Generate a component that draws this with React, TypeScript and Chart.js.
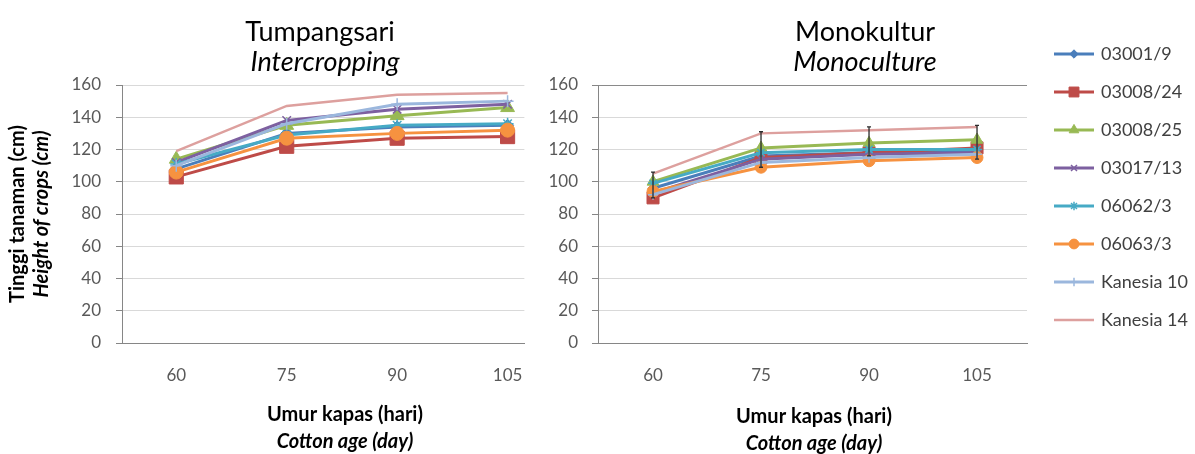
import React, { useEffect, useRef } from "react";
import { Chart, registerables } from "chart.js";
import { drawPoint } from "chart.js/helpers";

Chart.register(...registerables);

// ---------- data ----------
const categories = [60, 75, 90, 105];
const seriesNames = ["03001/9", "03008/24", "03008/25", "03017/13", "06062/3", "06063/3", "Kanesia 10", "Kanesia 14"];

// Tumpangsari / Intercropping
const inter_03001_9 = [108, 130, 134, 135];
const inter_03008_24 = [103, 122, 127, 128];
const inter_03008_25 = [114, 135, 141, 146];
const inter_03017_13 = [112, 138, 145, 148];
const inter_06062_3 = [111, 129, 135, 136];
const inter_06063_3 = [106, 127, 130, 132];
const inter_kanesia10 = [110, 136, 148, 150];
const inter_kanesia14 = [119, 147, 154, 155];

// Monokultur / Monoculture
const mono_03001_9 = [96, 116, 118, 119];
const mono_03008_24 = [90, 115, 118, 121];
const mono_03008_25 = [100, 121, 124, 126];
const mono_03017_13 = [93, 114, 117, 118];
const mono_06062_3 = [99, 118, 120, 120];
const mono_06063_3 = [94, 109, 113, 115];
const mono_kanesia10 = [92, 112, 115, 117];
const mono_kanesia14 = [105, 130, 132, 134];

// error bars (monoculture)
const monoErrLow = [90, 109, 116, 114];
const monoErrHigh = [106, 131, 134, 135];

const yTicks = { min: 0, max: 160, step: 20 };
const leftXRange = { min: 52.63, max: 107.28 };
const rightXRange = { min: 52.36, max: 111.94 };

// ---------- styles ----------
const FONT = 'Lato, "Open Sans", sans-serif';
const seriesStyles = [
  { color: "#4A7EBB", pointStyle: "rectRot", radius: 6, pbw: 1, lw: 3 },
  { color: "#BE4B48", pointStyle: "rect", radius: 10, pbw: 1, lw: 3 },
  { color: "#98B954", pointStyle: "triangle", radius: 8, pbw: 1, lw: 3 },
  { color: "#7D60A0", pointStyle: "crossRot", radius: 6, pbw: 1.5, lw: 3 },
  { color: "#46AAC5", pointStyle: "star", radius: 6, pbw: 1.5, lw: 3 },
  { color: "#F69240", pointStyle: "circle", radius: 7, pbw: 1, lw: 3 },
  { color: "#9BB7DD", pointStyle: "cross", radius: 6, pbw: 1.5, lw: 3 },
  { color: "#DDA09E", pointStyle: "circle", radius: 0, pbw: 0, lw: 2.5 },
];

type TextItem = { text: string; x: number; y: number; font: string; color: string; rotate?: boolean };

const textPlugin = (items: TextItem[]) => ({
  id: "texts",
  afterDraw(chart: any) {
    const ctx = chart.ctx;
    for (const t of items) {
      ctx.save();
      ctx.translate(t.x, t.y);
      if (t.rotate) ctx.rotate(-Math.PI / 2);
      ctx.font = t.font;
      ctx.fillStyle = t.color;
      ctx.textAlign = "center";
      ctx.textBaseline = "middle";
      ctx.fillText(t.text, 0, 0);
      ctx.restore();
    }
  },
});

const errorBarPlugin = (low: number[], high: number[]) => ({
  id: "errbars",
  afterDatasetsDraw(chart: any) {
    const ctx = chart.ctx;
    const xs = chart.scales.x;
    const ys = chart.scales.y;
    ctx.save();
    ctx.strokeStyle = "#2b2b2b";
    ctx.lineWidth = 1.3;
    categories.forEach((c, i) => {
      const x = xs.getPixelForValue(c);
      const y1 = ys.getPixelForValue(high[i]);
      const y2 = ys.getPixelForValue(low[i]);
      ctx.beginPath();
      ctx.moveTo(x, y1);
      ctx.lineTo(x, y2);
      ctx.moveTo(x - 2, y1);
      ctx.lineTo(x + 2, y1);
      ctx.moveTo(x - 2, y2);
      ctx.lineTo(x + 2, y2);
      ctx.stroke();
    });
    ctx.restore();
  },
});

function buildDatasets(values: number[][], scale: number) {
  const n = values.length;
  return values.map((vals, i) => {
    const s = seriesStyles[i];
    return {
      label: seriesNames[i],
      data: categories.map((x, j) => ({ x, y: vals[j] })),
      borderColor: s.color,
      backgroundColor: s.color,
      borderWidth: s.lw,
      pointStyle: s.pointStyle,
      pointRadius: s.radius * scale,
      pointBorderWidth: s.pbw,
      pointBackgroundColor: s.color,
      pointBorderColor: s.color,
      tension: 0,
      order: n - i,
    };
  });
}

function chartOptions(opts: {
  xRange: { min: number; max: number };
  yWidth: number;
  padding: any;
  yPad: number;
  topGridColor: string;
}) {
  return {
    animation: false,
    responsive: false,
    events: [],
    layout: { padding: opts.padding },
    plugins: { legend: { display: false }, tooltip: { enabled: false } },
    scales: {
      x: {
        type: "linear",
        min: opts.xRange.min,
        max: opts.xRange.max,
        afterBuildTicks: (s: any) => {
          s.ticks = categories.map((v) => ({ value: v }));
        },
        grid: { color: "rgba(0,0,0,0)", drawTicks: false },
        border: { color: "#868686", width: 1 },
        ticks: {
          padding: 22,
          color: "#595959",
          font: { family: FONT, size: 17 },
          autoSkip: false,
          maxRotation: 0,
          callback: (v: any) => String(v),
        },
        afterFit: (s: any) => {
          s.height = 50;
        },
      },
      y: {
        min: yTicks.min,
        max: yTicks.max,
        ticks: {
          stepSize: yTicks.step,
          padding: opts.yPad,
          color: "#595959",
          font: { family: FONT, size: 17 },
        },
        grid: {
          color: (c: any) => (c.tick && c.tick.value === yTicks.max ? opts.topGridColor : "#d9d9d9"),
          tickColor: "#868686",
          tickLength: 6,
          drawTicks: true,
        },
        border: { color: "#868686", width: 1 },
        afterFit: (s: any) => {
          s.width = opts.yWidth;
        },
      },
    },
  };
}

function makeLegendIcon(i: number): HTMLCanvasElement {
  const s = seriesStyles[i];
  const c = document.createElement("canvas");
  c.width = 40;
  c.height = 20;
  const ctx = c.getContext("2d")!;
  ctx.strokeStyle = s.color;
  ctx.lineWidth = s.lw;
  ctx.beginPath();
  ctx.moveTo(0, 10);
  ctx.lineTo(40, 10);
  ctx.stroke();
  if (s.radius > 0) {
    ctx.fillStyle = s.color;
    ctx.strokeStyle = s.color;
    ctx.lineWidth = s.pbw;
    drawPoint(ctx, { pointStyle: s.pointStyle as any, radius: s.radius * 0.7, rotation: 0, borderWidth: s.pbw }, 20, 10);
  }
  return c;
}

export default function App() {
  const leftRef = useRef<HTMLCanvasElement>(null);
  const rightRef = useRef<HTMLCanvasElement>(null);
  const legendRef = useRef<HTMLCanvasElement>(null);

  useEffect(() => {
    const interValues = [
      inter_03001_9, inter_03008_24, inter_03008_25, inter_03017_13,
      inter_06062_3, inter_06063_3, inter_kanesia10, inter_kanesia14,
    ];
    const monoValues = [
      mono_03001_9, mono_03008_24, mono_03008_25, mono_03017_13,
      mono_06062_3, mono_06063_3, mono_kanesia10, mono_kanesia14,
    ];

    const leftTexts: TextItem[] = [
      { text: "Tumpangsari", x: 320, y: 32, font: `27px ${FONT}`, color: "#000" },
      { text: "Intercropping", x: 325, y: 62, font: `italic 27px ${FONT}`, color: "#000" },
      { text: "Tinggi tanaman (cm)", x: 18, y: 214, font: `bold 20px ${FONT}`, color: "#000", rotate: true },
      { text: "Height of crops (cm)", x: 42, y: 214, font: `italic bold 20px ${FONT}`, color: "#000", rotate: true },
      { text: "Umur kapas (hari)", x: 345, y: 415, font: `bold 20px ${FONT}`, color: "#000" },
      { text: "Cotton age (day)", x: 345, y: 442, font: `italic bold 20px ${FONT}`, color: "#000" },
    ];
    const rightTexts: TextItem[] = [
      { text: "Monokultur", x: 320, y: 32, font: `27px ${FONT}`, color: "#000" },
      { text: "Monoculture", x: 320, y: 62, font: `italic 27px ${FONT}`, color: "#000" },
      { text: "Umur kapas (hari)", x: 269, y: 417, font: `bold 20px ${FONT}`, color: "#000" },
      { text: "Cotton age (day)", x: 269, y: 444, font: `italic bold 20px ${FONT}`, color: "#000" },
    ];

    const left = new Chart(leftRef.current!, {
      type: "line",
      data: { datasets: buildDatasets(interValues, 1) as any },
      options: chartOptions({
        xRange: leftXRange,
        yWidth: 122,
        padding: { top: 85, right: 15, bottom: 61, left: 0 },
        yPad: 15,
        topGridColor: "#d9d9d9",
      }) as any,
      plugins: [textPlugin(leftTexts)],
    });

    const right = new Chart(rightRef.current!, {
      type: "line",
      data: { datasets: buildDatasets(monoValues, 0.85) as any },
      options: chartOptions({
        xRange: rightXRange,
        yWidth: 53,
        padding: { top: 85, right: 18, bottom: 61, left: 0 },
        yPad: 14,
        topGridColor: "#8a8a8a",
      }) as any,
      plugins: [errorBarPlugin(monoErrLow, monoErrHigh), textPlugin(rightTexts)],
    });

    const icons = seriesNames.map((_, i) => makeLegendIcon(i));
    const legend = new Chart(legendRef.current!, {
      type: "line",
      data: {
        datasets: seriesNames.map((name, i) => ({
          label: name,
          data: [],
          borderColor: seriesStyles[i].color,
        })),
      },
      options: {
        animation: false,
        responsive: false,
        events: [],
        scales: { x: { display: false }, y: { display: false } },
        plugins: {
          tooltip: { enabled: false },
          legend: {
            position: "left",
            align: "start",
            maxWidth: 160,
            labels: {
              usePointStyle: true,
              pointStyleWidth: 36,
              padding: 20,
              color: "#404040",
              font: { family: FONT, size: 18 },
              generateLabels: () =>
                seriesNames.map((name, i) => ({
                  text: name,
                  pointStyle: icons[i] as any,
                  fillStyle: seriesStyles[i].color,
                  strokeStyle: seriesStyles[i].color,
                  lineWidth: 0,
                  hidden: false,
                  datasetIndex: i,
                  fontColor: "#404040",
                })),
            },
          },
        },
      } as any,
    });

    return () => {
      left.destroy();
      right.destroy();
      legend.destroy();
    };
  }, []);

  return (
    <div style={{ position: "absolute", left: 0, top: 0, width: 1195, height: 454, background: "#fff", overflow: "hidden" }}>
      <canvas ref={leftRef} width={545} height={454} style={{ position: "absolute", left: 0, top: 0, width: 545, height: 454 }} />
      <canvas ref={rightRef} width={500} height={454} style={{ position: "absolute", left: 545, top: 0, width: 500, height: 454 }} />
      <canvas ref={legendRef} width={160} height={380} style={{ position: "absolute", left: 1036, top: 25, width: 160, height: 380 }} />
    </div>
  );
}
